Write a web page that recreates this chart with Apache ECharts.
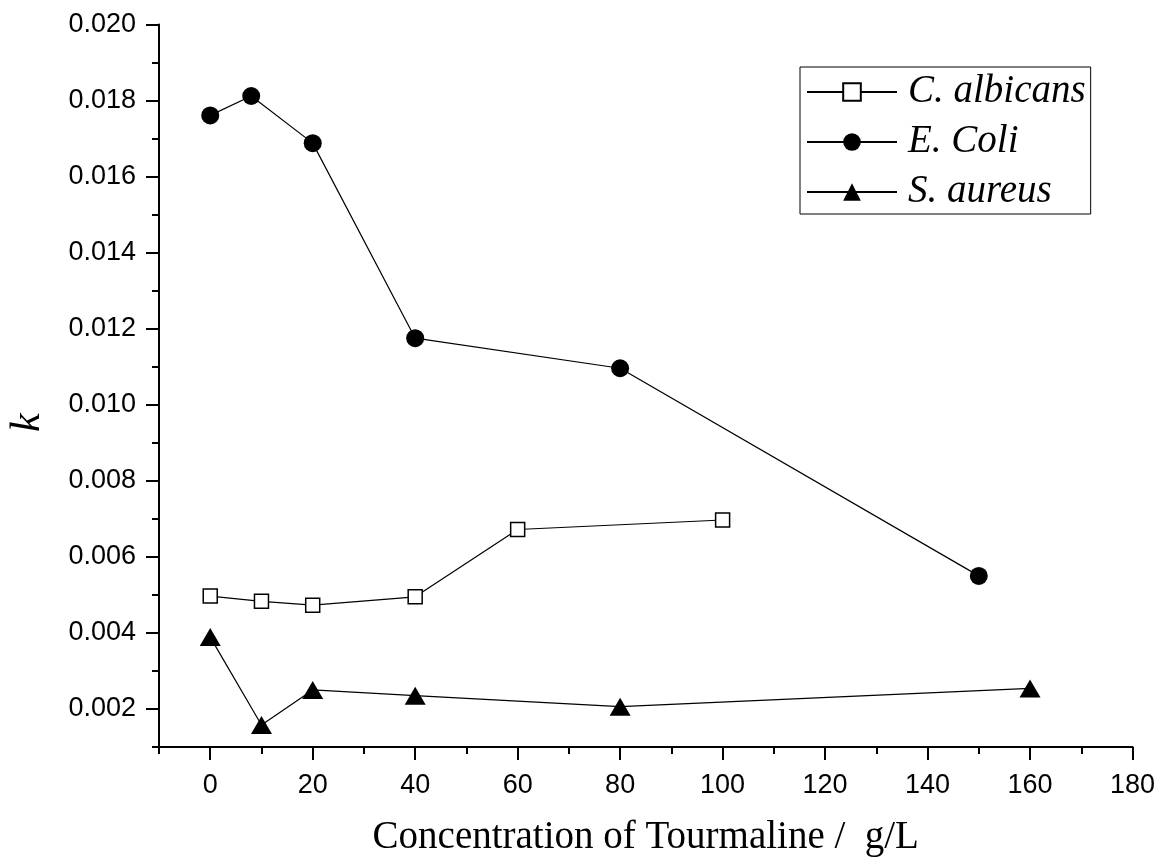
<!DOCTYPE html>
<html>
<head>
<meta charset="utf-8">
<script src="https://cdn.jsdelivr.net/npm/echarts@6/dist/echarts.min.js"></script>
<style>html,body{margin:0;padding:0;background:#fff;}#c{width:1159px;height:857px;}</style>
</head>
<body>
<div id="c"></div>
<script>
// Data
const seriesNames = ['C. albicans', 'E. Coli', 'S. aureus'];
const albicansX = [0, 10, 20, 40, 60, 100];
const albicansY = [0.00497, 0.00483, 0.00473, 0.00495, 0.00672, 0.00697];
const coliX = [0, 8, 20, 40, 80, 150];
const coliY = [0.01761, 0.01812, 0.01688, 0.01175, 0.01096, 0.00550];
const aureusX = [0, 10, 20, 40, 80, 160];
const aureusY = [0.00389, 0.00158, 0.00250, 0.00235, 0.00206, 0.00254];
const xMajorTicks = [0, 20, 40, 60, 80, 100, 120, 140, 160, 180];
const xMinorTicks = [-10, 10, 30, 50, 70, 90, 110, 130, 150, 170];
const yMajorTicks = [0.002, 0.004, 0.006, 0.008, 0.010, 0.012, 0.014, 0.016, 0.018, 0.020];
const yMinorTicks = [0.001, 0.003, 0.005, 0.007, 0.009, 0.011, 0.013, 0.015, 0.017, 0.019];

const pairs = (xs, ys) => xs.map((x, i) => [x, ys[i]]);
const chart = echarts.init(document.getElementById('c'), null, {renderer: 'canvas'});

const sansLabel = {fontFamily: 'Liberation Sans', fontSize: 27, color: '#000'};
const baseX = {
  type: 'value', min: -10, max: 180, interval: 10, position: 'bottom',
  splitLine: {show: false}
};
const baseY = {
  type: 'value', min: 0.001, max: 0.020, interval: 0.001, position: 'left',
  splitLine: {show: false}
};

chart.setOption({
  animation: false,
  backgroundColor: '#fff',
  grid: {left: 159, right: 26.5, top: 24.5, bottom: 110, containLabel: false, outerBoundsMode: 'none'},
  legend: {
    orient: 'vertical', left: 800, top: 67,
    data: seriesNames,
    itemWidth: 90, itemHeight: 22, itemGap: 10,
    padding: [5, 5, 2, 6],
    borderColor: '#000', borderWidth: 1,
    textStyle: {fontFamily: 'Liberation Serif', fontStyle: 'italic', fontSize: 39, lineHeight: 40, color: '#000', padding: [0, 0, 0, 6]}
  },
  xAxis: [
    Object.assign({}, baseX, {
      name: 'Concentration of Tourmaline /  g/L',
      nameLocation: 'middle', nameGap: 71,
      nameTextStyle: {fontFamily: 'Liberation Serif', fontSize: 39, color: '#000'},
      axisLine: {show: true, onZero: false, lineStyle: {color: '#000', width: 2}},
      axisTick: {show: true, inside: false, length: 13, customValues: xMajorTicks, lineStyle: {color: '#000', width: 2}},
      axisLabel: Object.assign({show: true, margin: 25, customValues: xMajorTicks}, sansLabel)
    }),
    Object.assign({}, baseX, {
      axisLine: {show: false, onZero: false},
      axisTick: {show: true, inside: false, length: 7, customValues: xMinorTicks, lineStyle: {color: '#000', width: 2}},
      axisLabel: {show: false}
    })
  ],
  yAxis: [
    Object.assign({}, baseY, {
      name: 'k',
      nameLocation: 'middle', nameGap: 110,
      nameTextStyle: {fontFamily: 'Liberation Serif', fontStyle: 'italic', fontSize: 42, color: '#000', padding: [0, 74, 0, 0]},
      axisLine: {show: true, onZero: false, lineStyle: {color: '#000', width: 2}},
      axisTick: {show: true, inside: false, length: 13, customValues: yMajorTicks, lineStyle: {color: '#000', width: 2}},
      axisLabel: Object.assign({show: true, margin: 23, customValues: yMajorTicks, formatter: v => v.toFixed(3)}, sansLabel)
    }),
    Object.assign({}, baseY, {
      axisLine: {show: false, onZero: false},
      axisTick: {show: true, inside: false, length: 7, customValues: yMinorTicks, lineStyle: {color: '#000', width: 2}},
      axisLabel: {show: false}
    })
  ],
  series: [
    {
      name: seriesNames[0], type: 'line', data: pairs(albicansX, albicansY),
      symbol: 'rect', symbolSize: 14,
      itemStyle: {color: '#fff', borderColor: '#000', borderWidth: 1.5},
      lineStyle: {color: '#000', width: 1.2}
    },
    {
      name: seriesNames[1], type: 'line', data: pairs(coliX, coliY),
      symbol: 'circle', symbolSize: 18,
      itemStyle: {color: '#000', borderColor: '#000', borderWidth: 0},
      lineStyle: {color: '#000', width: 1.2}
    },
    {
      name: seriesNames[2], type: 'line', data: pairs(aureusX, aureusY),
      symbol: 'triangle', symbolSize: [21, 18],
      itemStyle: {color: '#000', borderColor: '#000', borderWidth: 0},
      lineStyle: {color: '#000', width: 1.2}
    }
  ]
});
</script>
</body>
</html>
